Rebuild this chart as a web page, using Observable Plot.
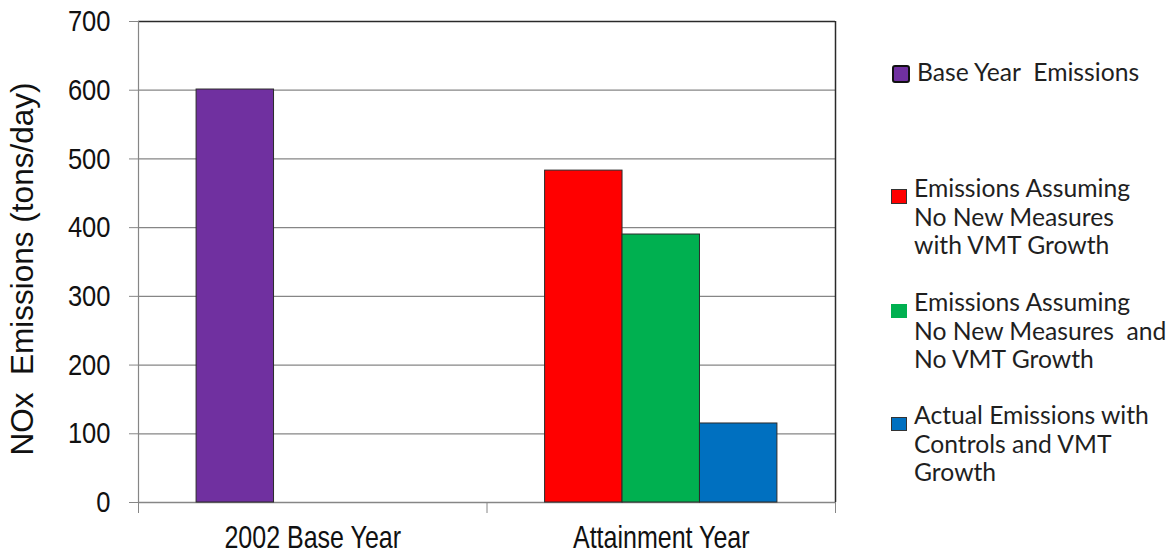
<!DOCTYPE html>
<html>
<head>
<meta charset="utf-8">
<script src="https://cdn.jsdelivr.net/npm/d3@7"></script>
<script src="https://cdn.jsdelivr.net/npm/@observablehq/plot@0.6"></script>
<style>
  html, body { margin: 0; padding: 0; background: #fff; }
  #wrap { position: relative; width: 1174px; height: 554px; overflow: hidden; background: #fff; }
  #chart { position: absolute; left: 0; top: 0; }
  .item { position: absolute; left: 914px; font-family: Lato, "Open Sans", sans-serif; font-size: 24.7px; line-height: 28.5px; color: #1f1f1f; white-space: nowrap; }
  .sw { position: absolute; box-sizing: border-box; }
</style>
</head>
<body>
<div id="wrap">
  <div id="chart"></div>
</div>
<script>
// ---- data ----
const categories = ["2002 Base Year", "Attainment Year"];
const series = [
  "Base Year Emissions",
  "Emissions Assuming No New Measures with VMT Growth",
  "Emissions Assuming No New Measures and No VMT Growth",
  "Actual Emissions with Controls and VMT Growth"
];
const seriesColors = ["#7030A0", "#FF0000", "#00B050", "#0070C0"];
const barCategory = [0, 1, 1, 1];
const barSlot = [0, 0, 1, 2];
const values = [601, 483, 390, 115];
const yTicks = [0, 100, 200, 300, 400, 500, 600, 700];
const yLabel = "NOx\u00A0 Emissions (tons/day)";
const legendLines = [
  ["Base Year\u00A0 Emissions"],
  ["Emissions Assuming", "No New Measures", "with VMT Growth"],
  ["Emissions Assuming", "No New Measures\u00A0 and", "No VMT Growth"],
  ["Actual Emissions with", "Controls and VMT", "Growth"]
];

// ---- layout helpers (cluster of 3 slots per category) ----
const slotsPerCategory = 3;
const outerPad = 0.75;
const step = 1 / (slotsPerCategory + 2 * outerPad);

const bars = values.map((v, i) => ({
  series: series[i],
  cat: barCategory[i],
  slot: barSlot[i],
  value: v
}));

const regular = "'Liberation Sans', Arial, sans-serif";
const grey = "#868686";

const plot = Plot.plot({
  width: 860,
  height: 554,
  marginLeft: 138,
  marginRight: 25,
  marginTop: 21,
  marginBottom: 52,
  style: { background: "white", fontFamily: regular, overflow: "visible" },
  x: { type: "linear", domain: [0, categories.length], axis: null },
  y: { domain: [0, 700], axis: null },
  color: { domain: series, range: seriesColors },
  marks: [
    Plot.gridY({ ticks: yTicks.filter(t => t > 0 && t < 700), stroke: grey, strokeOpacity: 1, strokeWidth: 1.2 }),
    Plot.ruleY([700], { stroke: "#2a2a2a", strokeWidth: 1.5 }),
    Plot.ruleY([0], { stroke: grey, strokeWidth: 1.5 }),
    Plot.ruleX([0], { y1: 0, y2: 700, stroke: grey, strokeWidth: 1.2 }),
    Plot.ruleX([categories.length], { y1: 0, y2: 700, stroke: "#2a2a2a", strokeWidth: 1.5 }),
    Plot.rectY(bars, {
      x1: d => d.cat + (outerPad + d.slot) * step,
      x2: d => d.cat + (outerPad + d.slot + 1) * step,
      y1: 0,
      y2: "value",
      fill: "series",
      stroke: "#2b2b2b",
      strokeWidth: 1
    }),
    Plot.axisY({
      ticks: yTicks,
      tickSize: 9,
      tickPadding: 19,
      fontSize: 30,
      stroke: grey,
      strokeOpacity: 1,
      fill: "#111",
      label: null
    }),
    Plot.axisX({
      ticks: d3.range(categories.length + 1),
      tickSize: 11,
      tickFormat: () => "",
      stroke: grey,
      strokeOpacity: 1,
      label: null
    }),
    Plot.axisX({
      ticks: categories.map((c, i) => i + 0.5),
      tickSize: 0,
      tickPadding: 24,
      tickFormat: v => categories[Math.floor(v)],
      fontSize: 30.5,
      fill: "#111",
      label: null
    }),
    Plot.text([yLabel], {
      text: d => d,
      frameAnchor: "left",
      textAnchor: "middle",
      rotate: -90,
      dx: -116,
      dy: 7,
      fontSize: 31.5,
      fill: "#111"
    })
  ]
});
document.getElementById("chart").appendChild(plot);

// condense the tick and category labels horizontally (the reference uses a narrow face)
function condense(texts, sx) {
  texts.forEach(t => {
    const len = t.getComputedTextLength();
    if (len > 0) {
      t.setAttribute("textLength", (len * sx).toFixed(1));
      t.setAttribute("lengthAdjust", "spacingAndGlyphs");
    }
  });
}
const allTexts = Array.from(plot.querySelectorAll("text"));
condense(allTexts.filter(t => yTicks.map(String).includes(t.textContent.trim())), 0.85);
condense(allTexts.filter(t => categories.includes(t.textContent.trim())), 0.82);

// ---- legend (HTML, to the right of the chart) ----
const wrap = document.getElementById("wrap");
const itemTops = [58, 174, 288, 401];
const swatchBoxes = [
  { left: 892, top: 65, w: 18, h: 18, border: "2.5px solid #111", radius: "3px" },
  { left: 891, top: 189, w: 16, h: 15, border: "1px solid #333", radius: "0" },
  { left: 891, top: 304, w: 16, h: 14, border: "none", radius: "0" },
  { left: 891, top: 417, w: 16, h: 14, border: "1px solid #333", radius: "0" }
];
series.forEach((s, i) => {
  const sw = document.createElement("div");
  sw.className = "sw";
  const b = swatchBoxes[i];
  Object.assign(sw.style, {
    left: b.left + "px", top: b.top + "px", width: b.w + "px", height: b.h + "px",
    background: seriesColors[i], border: b.border, borderRadius: b.radius
  });
  wrap.appendChild(sw);
  const it = document.createElement("div");
  it.className = "item";
  it.style.top = itemTops[i] + "px";
  if (i === 0) it.style.left = "917px";
  legendLines[i].forEach((line, j) => {
    if (j) it.appendChild(document.createElement("br"));
    it.appendChild(document.createTextNode(line));
  });
  it.title = s;
  wrap.appendChild(it);
});
</script>
</body>
</html>
